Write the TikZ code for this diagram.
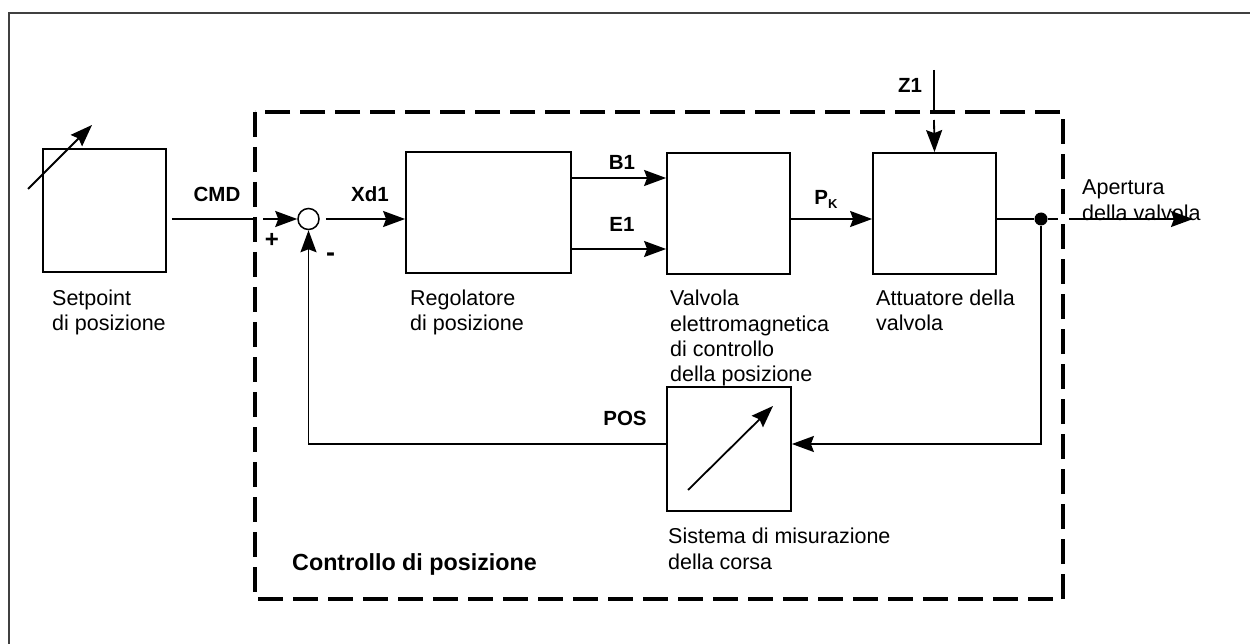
\documentclass[tikz,border=0pt]{standalone}
\usepackage{fontspec}
\setmainfont{Liberation Sans}
\usetikzlibrary{arrows.meta}
\begin{document}
\begin{tikzpicture}[x=1pt,y=-1pt,
  box/.style={draw,line width=1.8pt,inner sep=0pt,rectangle},
  ln/.style={line width=1.8pt},
  arr/.style={line width=1.8pt,-{Stealth[length=22pt,width=16pt,inset=3pt]}},
  dashbox/.style={line width=4.5pt,dash pattern=on 25pt off 10pt},
  frame/.style={line width=1.5pt,black!75},
  lbl/.style={font=\fontsize{21.5}{25.5}\selectfont,inner sep=0pt,anchor=base west},
  blbl/.style={font=\fontsize{20.5}{24}\selectfont\bfseries,inner sep=0pt,anchor=base},
  tlbl/.style={font=\fontsize{23.3}{27}\selectfont\bfseries,inner sep=0pt,anchor=base west}]
\useasboundingbox (0,0) rectangle (1250,644);
\fill[white] (0,0) rectangle (1250,644);
% outer frame
\draw[frame] (9,644) -- (9,13) -- (1250,13);

% blocks
\node[box,minimum width=123pt,minimum height=123pt] (sp) at (104.5,210.5) {};
\node[box,minimum width=165pt,minimum height=121pt] (reg) at (488.5,212.5) {};
\node[box,minimum width=123pt,minimum height=121pt] (val) at (728.5,213.5) {};
\node[box,minimum width=123pt,minimum height=121pt] (att) at (934.5,213.5) {};
\node[box,minimum width=124pt,minimum height=124pt] (meas) at (729,449) {};
\node[circle,draw,line width=1.5pt,minimum size=21pt,inner sep=0pt] (sum) at (308.5,219) {};
\node[circle,fill,minimum size=13pt,inner sep=0pt] (dot) at (1041,219) {};

% helper coordinates
\coordinate (spa) at (28,189);
\coordinate (spb) at (92,125);
\coordinate (msa) at (688,490);
\coordinate (msb) at (773,406);
\coordinate (dl1) at (253,219);
\coordinate (dl2) at (263,219);
\coordinate (dr1) at (1058,219);
\coordinate (dr2) at (1069,219);
\coordinate (outend) at (1193,219);
\coordinate (z1top) at (934,70);
\coordinate (z1a) at (934,111);
\coordinate (z1b) at (934,120);

% symbol arrows inside blocks
\draw[arr] (spa) -- (spb);
\draw[arr] (msa) -- (msb);

% connectors
\draw[ln] ([xshift=5pt]sp.east |- sum) -- (dl1);
\draw[arr] (dl2) -- (sum);
\draw[arr] ([xshift=6pt]sum.east) -- (reg.west |- sum);
\draw[arr] ([yshift=34.5pt]reg.east) -- ([yshift=34.5pt]reg.east -| val.west);
\draw[arr] ([yshift=-36.5pt]reg.east) -- ([yshift=-36.5pt]reg.east -| val.west);
\draw[arr] (val.east |- sum) -- (att.west |- sum);
\draw[ln] (att.east |- sum) -- (dot) -- (dr1);
\draw[arr] (dr2) -- (outend);
\draw[arr] (dot) |- ([yshift=5pt]meas.east);
\draw[arr] ([yshift=5pt]meas.west) -| (sum);
\draw[ln] (z1top) -- (z1a);
\draw[arr] (z1b) -- (att.north);

% dashed boundary
\draw[dashbox] (255,112) rectangle (1063,599);

% labels
\node[blbl] (cmd) at (217,201.7) {CMD};
\node[blbl] (xd1) at (370,201.7) {Xd1};
\node[blbl] (b1) at (622,169.3) {B1};
\node[blbl] (e1) at (622,231.7) {E1};
\node[blbl] (pk) at (826,205) {P\raisebox{-0.35ex}{\fontsize{13}{13}\selectfont K}};
\node[blbl] (z1) at (910,92.3) {Z1};
\node[blbl] (pos) at (625,425) {POS};
\node[font=\fontsize{24}{28}\selectfont\bfseries,inner sep=0pt] (plus) at (272,240) {+};
\node[font=\fontsize{27}{30}\selectfont\bfseries,inner sep=0pt] (minus) at (330.5,257) {-};

\node[lbl] (t1a) at (52,305.7) {Setpoint};
\node[lbl] (t1b) at (52,330.7) {di posizione};
\node[lbl] (t2a) at (410,305.7) {Regolatore};
\node[lbl] (t2b) at (410,330.7) {di posizione};
\node[lbl] (t3a) at (670,305.7) {Valvola};
\node[lbl] (t3b) at (670,331) {elettromagnetica};
\node[lbl] (t3c) at (670,356) {di controllo};
\node[lbl] (t3d) at (670,381) {della posizione};
\node[lbl] (t4a) at (876,305.7) {Attuatore della};
\node[lbl] (t4b) at (876,330.7) {valvola};
\node[lbl] (t5a) at (668,543.3) {Sistema di misurazione};
\node[lbl] (t5b) at (668,569.3) {della corsa};
\node[lbl] (t6a) at (1082,194.3) {Apertura};
\node[lbl] (t6b) at (1082,221) {della valvola};
\node[tlbl] (title) at (292,570) {Controllo di posizione};
\end{tikzpicture}
\end{document}
